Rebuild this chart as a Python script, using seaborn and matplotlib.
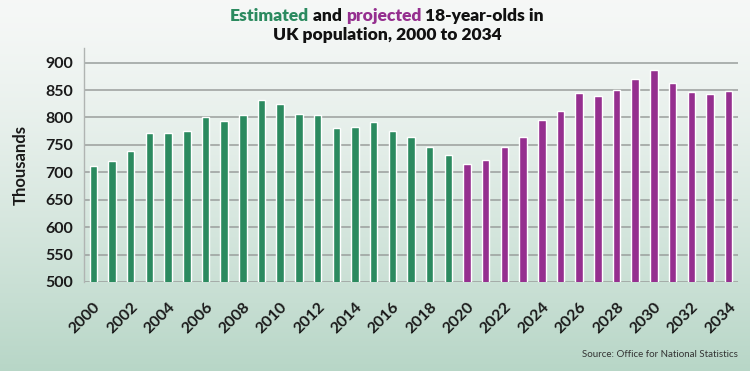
import numpy as np
import pandas as pd
import matplotlib
matplotlib.use("Agg")
import matplotlib.pyplot as plt
import seaborn as sns

# data (thousands)
years = list(range(2000, 2035))
estimated = [712, 720, 738, 771, 771, 775, 800, 794, 804, 831,
             824, 807, 805, 781, 783, 791, 776, 765, 746, 731]
projected = [715, 723, 746, 765, 795, 811, 845, 840, 850, 870,
             887, 862, 846, 842, 849]
kinds = ["Estimated"] * len(estimated) + ["Projected"] * len(projected)

GREEN = "#2b8a5f"
PURPLE = "#952f8f"

df = pd.DataFrame({"year": [str(y) for y in years],
                   "value": estimated + projected,
                   "kind": kinds})

sns.set_style("white")
plt.rcParams["font.family"] = ["Lato", "DejaVu Sans"]

fig = plt.figure(figsize=(7.5, 3.71), dpi=100)

# soft vertical background gradient
bg = fig.add_axes([0, 0, 1, 1], zorder=-10)
top = np.array([0.965, 0.972, 0.968])
bot = np.array([0.72, 0.84, 0.78])
t = np.linspace(0, 1, 256)[:, None]
grad = top + (bot - top) * t ** 1.3
bg.imshow(grad[:, None, :].repeat(2, axis=1), aspect="auto", extent=[0, 1, 0, 1])
bg.axis("off")

ax = fig.add_axes([0.112, 0.24, 0.872, 0.631])
ax.patch.set_alpha(0)
sns.barplot(data=df, x="year", y="value", hue="kind",
            palette={"Estimated": GREEN, "Projected": PURPLE},
            dodge=False, width=0.4, legend=False, ax=ax, zorder=3,
            saturation=1)

ax.set_ylim(500, 927)
ax.set_xlim(-0.5, len(years) - 0.5)
ax.set_yticks(range(500, 901, 50))
ax.yaxis.grid(True, color="#9a9e9c", linewidth=1.1, zorder=0)
ax.set_axisbelow(True)
for s in ["top", "right", "bottom"]:
    ax.spines[s].set_visible(False)
ax.spines["left"].set_color("#b0b4b2")
ax.spines["left"].set_linewidth(1)
ax.tick_params(axis="both", length=0, labelsize=11.5, colors="#1a1a1a")
ax.tick_params(axis="x", pad=13)
ax.tick_params(axis="y", pad=8)

ax.set_xticks(range(0, len(years), 2))
ax.set_xticklabels([str(y) for y in years[::2]])
plt.setp(ax.get_xticklabels(), rotation=45, ha="right",
         rotation_mode="anchor", fontweight="bold")
plt.setp(ax.get_yticklabels(), fontweight="bold")
ax.set_xlabel("")
ax.set_ylabel("Thousands", fontsize=12, fontweight="bold", color="#1a1a1a",
              labelpad=12)

# two-colour title, centred by measuring each piece
renderer = fig.canvas.get_renderer()
fw = fig.get_figwidth() * fig.dpi


def centred_line(parts, cx, y, **kw):
    texts = [fig.text(0, y, s, color=c, **kw) for s, c in parts]
    widths = [tx.get_window_extent(renderer).width for tx in texts]
    x = cx * fw - sum(widths) / 2
    for tx, w in zip(texts, widths):
        tx.set_x(x / fw)
        x += w


title_kw = dict(fontsize=12.5, fontweight="heavy", va="center")
centred_line([("Estimated", GREEN), (" and ", "#111111"),
              ("projected", PURPLE), (" 18-year-olds in", "#111111")],
             0.516, 0.956, **title_kw)
centred_line([("UK population, 2000 to 2034", "#111111")],
             0.516, 0.906, **title_kw)

# source note
fig.text(0.984, 0.045, "Source: Office for National Statistics", ha="right",
         va="center", fontsize=7, color="#333333")

fig.savefig("out.png", dpi=100)
